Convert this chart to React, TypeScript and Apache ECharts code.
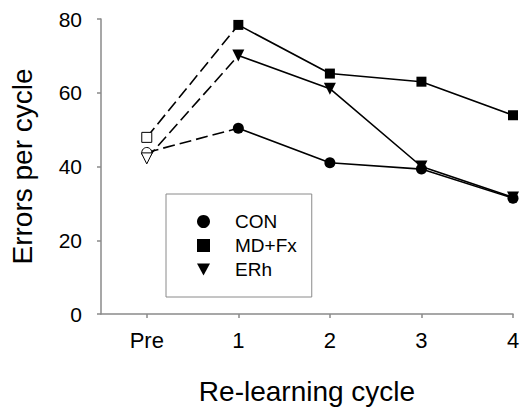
import React, { useEffect, useRef } from 'react';
import * as echarts from 'echarts';

const categories = ['Pre', '1', '2', '3', '4'];
const seriesNames = ['CON', 'MD+Fx', 'ERh'];
const preValues = [43.8, 47.9, 42.2];
const conValues = [50.4, 41.0, 39.3, 31.4];
const mdfxValues = [78.4, 65.2, 63.0, 53.9];
const erhValues = [70.1, 61.1, 40.0, 31.6];
const cycleValues = [conValues, mdfxValues, erhValues];
const yTickValues = [0, 20, 40, 60, 80];

const FONT = '"Liberation Sans", Arial, sans-serif';
const AXIS_COLOR = '#8a8a8a';
const symbols = ['circle', 'rect', 'triangle'];
const rotations = [0, 0, 180];
const sizes = [11, 10, 12];
const openSizes = [10, 10, 11];

export default function App() {
  const ref = useRef<HTMLDivElement>(null);
  useEffect(() => {
    document.body.style.margin = '0';
    if (!ref.current) return;
    const chart = echarts.init(ref.current, null, { renderer: 'svg' });
    const series: any[] = [];
    seriesNames.forEach((name, i) => {
      series.push({
        name: name + ' (pre)',
        type: 'line',
        data: [
          [0, preValues[i]],
          { value: [1, cycleValues[i][0]], symbol: 'none' },
        ],
        symbol: symbols[i],
        symbolRotate: rotations[i],
        symbolSize: openSizes[i],
        showAllSymbol: true,
        itemStyle: { color: '#fff', borderColor: '#000', borderWidth: 1 },
        lineStyle: { color: '#000', width: 1.6, type: [12, 5] },
        z: 2,
      });
      series.push({
        name,
        type: 'line',
        data: cycleValues[i].map((v, k) => [k + 1, v]),
        symbol: symbols[i],
        symbolRotate: rotations[i],
        symbolSize: sizes[i],
        showAllSymbol: true,
        itemStyle: { color: '#000' },
        lineStyle: { color: '#000', width: 1.6 },
        z: 3,
      });
    });
    chart.setOption({
      animation: false,
      grid: { left: 101, right: 12, top: 19, bottom: 94, containLabel: false },
      xAxis: {
        type: 'value',
        min: -0.5,
        max: categories.length - 1,
        name: 'Re-learning cycle',
        nameLocation: 'middle',
        nameGap: 63,
        nameTextStyle: { fontFamily: FONT, fontSize: 28, color: '#000' },
        axisLine: { show: true, onZero: false, lineStyle: { color: AXIS_COLOR, width: 1.5 } },
        axisTick: {
          show: true,
          length: 4,
          customValues: categories.map((_, i) => i),
          lineStyle: { color: AXIS_COLOR, width: 1.5 },
        },
        axisLabel: {
          customValues: categories.map((_, i) => i),
          formatter: (v: number) => categories[Math.round(v)] ?? '',
          fontFamily: FONT,
          fontSize: 22,
          color: '#000',
          margin: 15,
        },
        splitLine: { show: false },
      },
      yAxis: {
        type: 'value',
        min: 0,
        max: 80,
        interval: 20,
        name: 'Errors per cycle',
        nameLocation: 'middle',
        nameGap: 65,
        nameTextStyle: { fontFamily: FONT, fontSize: 28, color: '#000' },
        axisLine: { show: true, onZero: false, lineStyle: { color: AXIS_COLOR, width: 1.5 } },
        axisTick: { show: true, length: 4, lineStyle: { color: AXIS_COLOR, width: 1.5 } },
        axisLabel: {
          customValues: yTickValues,
          fontFamily: FONT,
          fontSize: 21,
          color: '#000',
          margin: 19,
        },
        splitLine: { show: false },
      },
      legend: {
        orient: 'vertical',
        left: 166,
        top: 194,
        padding: [18, 15, 18, 31],
        borderColor: AXIS_COLOR,
        borderWidth: 1,
        itemWidth: 13,
        itemHeight: 13,
        itemGap: 5,
        selectedMode: false,
        data: [
          { name: seriesNames[0], icon: 'circle' },
          { name: seriesNames[1], icon: 'rect' },
          { name: seriesNames[2], icon: 'path://M0,0L12,0L6,11Z' },
        ],
        itemStyle: { color: '#000' },
        textStyle: { fontFamily: FONT, fontSize: 19, color: '#000', padding: [0, 0, 0, 20] },
      },
      series,
    });
    return () => chart.dispose();
  }, []);
  return <div ref={ref} style={{ width: 525, height: 410 }} />;
}
